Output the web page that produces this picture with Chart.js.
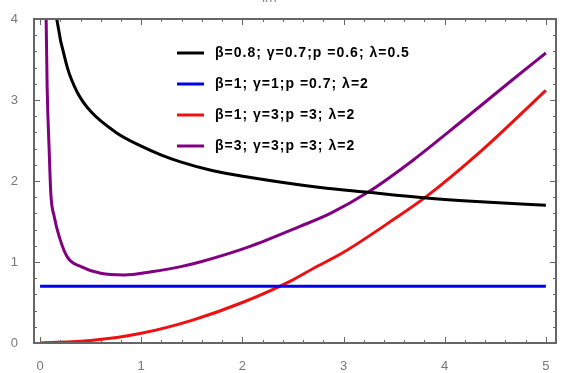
<!DOCTYPE html>
<html>
<head>
<meta charset="utf-8">
<script src="https://cdn.jsdelivr.net/npm/chart.js@4"></script>
<style>
  html, body { margin: 0; padding: 0; background: #fff; }
  #wrap { position: relative; width: 573px; height: 373px; overflow: hidden; }
  #top { position: absolute; left: 262px; top: -11px; font: 14px "Liberation Sans", Arial, sans-serif; color: #8a8a9a; }
</style>
</head>
<body>
<div id="wrap">
  <canvas id="chart" width="573" height="373"></canvas>
  <div id="top">lm</div>
</div>
<script>
// series labels and colours
const labels = ['β=0.8; γ=0.7;p =0.6; λ=0.5', 'β=1; γ=1;p =0.7; λ=2', 'β=1; γ=3;p =3; λ=2', 'β=3; γ=3;p =3; λ=2'];
const colors = ['#000000', '#0000ee', '#ee1010', '#800080'];

// values
const blackX = [0.14, 0.165, 0.27, 0.37, 0.5, 0.75, 1, 1.2, 1.38, 1.7, 2.05, 2.77, 3.24, 3.82, 4.4, 5];
const blackY = [4.3, 4.0, 3.4, 3.09, 2.86, 2.6, 2.43, 2.32, 2.24, 2.13, 2.05, 1.92, 1.86, 1.79, 1.74, 1.70];
const blueX = [0, 5];
const blueY = [0.7, 0.7];
const redX = [0, 0.5, 1, 1.5, 2, 2.5, 2.7, 3, 3.5, 3.82, 4.35, 5];
const redY = [0, 0.03, 0.12, 0.28, 0.5, 0.78, 0.92, 1.12, 1.53, 1.81, 2.36, 3.12];
const purpleX = [0.055, 0.06, 0.07, 0.09, 0.106, 0.14, 0.19, 0.27, 0.41, 0.6, 0.83, 1.1, 1.38, 1.58, 2.07, 2.57, 2.87, 3.24, 3.69, 4.18, 4.67, 5];
const purpleY = [4.6, 4.0, 3.16, 2.38, 1.85, 1.56, 1.31, 1.06, 0.94, 0.86, 0.84, 0.88, 0.94, 1.0, 1.19, 1.44, 1.6, 1.86, 2.26, 2.75, 3.25, 3.58];

const xTicks = [0, 1, 2, 3, 4, 5];
const yTicks = [0, 1, 2, 3, 4];

const pts = (xs, ys) => xs.map((x, i) => ({ x: x, y: ys[i] }));
const series = [pts(blackX, blackY), pts(blueX, blueY), pts(redX, redY), pts(purpleX, purpleY)];

// frame, inward ticks on all sides, and the legend inside the plot
const framePlugin = {
  id: 'frame',
  afterDraw(chart) {
    const ctx = chart.ctx;
    const a = chart.chartArea;
    const xs = chart.scales.x, ys = chart.scales.y;
    ctx.save();
    ctx.strokeStyle = '#666';
    ctx.lineWidth = 2;
    ctx.strokeRect(a.left, a.top, a.right - a.left, a.bottom - a.top);
    ctx.lineWidth = 1;
    for (let k = 0; k <= 25; k++) {
      const v = k / 5;
      const len = k % 5 === 0 ? 6 : 3;
      const px = Math.round(xs.getPixelForValue(v)) + 0.5;
      ctx.beginPath();
      ctx.moveTo(px, a.bottom); ctx.lineTo(px, a.bottom - len);
      ctx.moveTo(px, a.top); ctx.lineTo(px, a.top + len);
      ctx.stroke();
    }
    for (let k = 0; k <= 20; k++) {
      const v = k / 5;
      const len = k % 5 === 0 ? 6 : 3;
      const py = Math.round(ys.getPixelForValue(v)) + 0.5;
      ctx.beginPath();
      ctx.moveTo(a.left, py); ctx.lineTo(a.left + len, py);
      ctx.moveTo(a.right, py); ctx.lineTo(a.right - len, py);
      ctx.stroke();
    }
    // legend
    ctx.font = 'bold 14px "Liberation Sans", Arial, sans-serif';
    ctx.letterSpacing = '1px';
    ctx.textBaseline = 'middle';
    chart.data.datasets.forEach((ds, i) => {
      const y = 53 + i * 31;
      ctx.strokeStyle = ds.borderColor;
      ctx.lineWidth = 3;
      ctx.beginPath();
      ctx.moveTo(177, y); ctx.lineTo(204, y);
      ctx.stroke();
      ctx.fillStyle = '#000';
      ctx.fillText(ds.label, 215, y);
    });
    ctx.restore();
  }
};

new Chart(document.getElementById('chart'), {
  type: 'line',
  data: {
    datasets: series.map((d, i) => ({
      label: labels[i],
      data: d,
      borderColor: colors[i],
      borderWidth: 3,
      pointRadius: 0,
      cubicInterpolationMode: 'monotone',
      fill: false
    }))
  },
  options: {
    responsive: false,
    animation: false,
    layout: { padding: { top: 19, right: 17, left: 0, bottom: 0 } },
    plugins: { legend: { display: false }, tooltip: { enabled: false } },
    scales: {
      x: {
        type: 'linear',
        min: -0.06,
        max: 5.1,
        afterBuildTicks: s => { s.ticks = xTicks.map(v => ({ value: v })); },
        afterFit: s => { s.height = 30; },
        grid: { display: false },
        border: { display: false },
        ticks: { color: '#777', padding: 8, font: { size: 13, family: 'Liberation Sans' } }
      },
      y: {
        type: 'linear',
        min: 0,
        max: 4,
        afterBuildTicks: s => { s.ticks = yTicks.map(v => ({ value: v })); },
        afterFit: s => { s.width = 34; },
        grid: { display: false },
        border: { display: false },
        ticks: { color: '#777', padding: 8, font: { size: 13, family: 'Liberation Sans' } }
      }
    }
  },
  plugins: [framePlugin]
});
</script>
</body>
</html>
